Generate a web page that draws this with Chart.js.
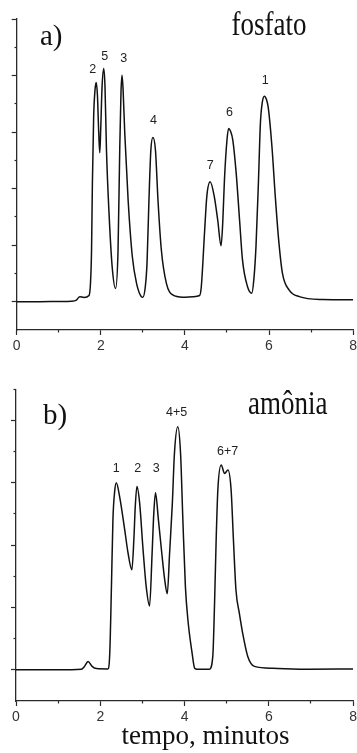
<!DOCTYPE html>
<html>
<head>
<meta charset="utf-8">
<script src="https://cdn.jsdelivr.net/npm/chart.js@4/dist/chart.umd.min.js"></script>
<style>
  html, body { margin:0; padding:0; width:357px; height:753px; overflow:hidden; background:#fff; }
  canvas { position:absolute; left:0; }
  .t { position:absolute; font-family:"Liberation Serif","Times New Roman",serif; color:#111; line-height:1; white-space:nowrap; }
</style>
</head>
<body>
<canvas id="ca" width="360" height="362" style="top:0px"></canvas>
<canvas id="cb" width="360" height="352" style="top:375px"></canvas>

<div class="t" style="left:40px; top:21px; font-size:29px;">a)</div>
<div class="t" style="left:231.5px; top:13.4px; font-size:27px; transform:scaleY(1.25); transform-origin:0 22.6px;">fosfato</div>
<div class="t" style="left:43px; top:400px; font-size:29px;">b)</div>
<div class="t" style="left:248px; top:392.4px; font-size:27px; transform:scaleY(1.25); transform-origin:0 22.6px;">amônia</div>
<div class="t" style="left:121.5px; top:722.4px; font-size:27px;">tempo, minutos</div>

<script>
// ---------- data: a) fosfato ----------
const fosfatoTime = [0.00,0.50,1.00,1.30,1.42,1.50,1.60,1.72,1.755,1.78,1.80,1.83,1.86,1.89,1.92,1.95,1.976,2.00,2.03,2.07,2.10,2.135,2.20,2.27,2.35,2.41,2.45,2.48,2.505,2.53,2.57,2.65,2.75,2.85,2.965,3.00,3.06,3.10,3.145,3.19,3.24,3.30,3.36,3.44,3.56,3.71,3.95,4.20,4.35,4.39,4.47,4.52,4.60,4.70,4.78,4.86,4.90,4.94,5.00,5.04,5.08,5.14,5.22,5.30,5.37,5.49,5.59,5.64,5.69,5.75,5.795,5.84,5.89,5.94,5.98,6.07,6.15,6.23,6.32,6.48,6.72,7.27,8.00];
const fosfatoSignal = [0.00,0.00,0.01,0.02,0.06,0.18,0.15,0.22,0.66,1.83,4.18,6.54,7.45,7.75,7.30,6.00,5.27,6.20,7.60,8.25,7.60,5.36,3.00,1.24,0.47,1.83,5.36,7.40,8.01,7.50,5.95,3.59,1.59,0.65,0.18,0.16,0.55,1.40,3.59,5.36,5.81,5.36,3.59,1.83,0.65,0.24,0.16,0.18,0.22,0.53,2.53,3.71,4.24,3.71,2.89,1.98,2.80,4.30,5.71,6.13,6.05,5.71,4.54,2.89,1.47,0.53,0.30,0.80,1.94,4.30,6.30,7.05,7.27,7.15,6.89,5.48,3.71,2.18,1.00,0.41,0.18,0.08,0.07];
const fosfatoPeakNames = ['2','5','3','4','7','6','1'];
const fosfatoPeakLabelTime = [1.81,2.095,2.545,3.25,4.60,5.06,5.91];
const fosfatoPeakLabelValue = [8.22,8.68,8.61,6.42,4.83,6.70,7.83];

// ---------- data: b) amônia ----------
const amoniaTime = [0.00,1.00,1.55,1.62,1.71,1.80,1.91,2.18,2.225,2.265,2.30,2.34,2.38,2.46,2.58,2.66,2.75,2.80,2.83,2.87,2.935,3.01,3.09,3.17,3.23,3.27,3.31,3.38,3.46,3.53,3.59,3.645,3.71,3.76,3.84,3.905,3.96,4.02,4.08,4.18,4.24,4.30,4.59,4.67,4.71,4.75,4.79,4.87,4.95,5.03,5.105,5.16,5.22,5.30,5.38,5.50,5.66,6.09,6.96,8.00];
const amoniaSignal = [0.00,0.00,0.02,0.10,0.27,0.12,0.04,0.03,0.53,2.67,4.81,5.70,6.00,5.55,4.49,3.74,3.21,4.27,5.23,5.88,5.34,3.95,2.67,2.05,3.74,5.02,5.68,4.81,3.74,2.88,2.44,3.74,5.34,6.95,7.80,6.95,4.81,2.67,1.60,0.53,0.05,0.02,0.02,0.43,2.03,4.17,5.77,6.57,6.30,6.41,5.77,4.17,2.56,1.82,1.17,0.43,0.11,0.05,0.02,0.03];
const amoniaPeakNames = ['1','2','3','4+5','6+7'];
const amoniaPeakLabelTime = [2.38,2.89,3.33,3.81,5.02];
const amoniaPeakLabelValue = [6.47,6.47,6.47,8.27,6.99];

// ---------- axes ----------
const xMajorTicks = [0,2,4,6,8];
const xMinorTicks = [1,3,5,7];
const yMajorTicksA = [0,2,4,6,8,10];
const yMinorTicksA = [1,3,5,7,9];
const yMajorTicksB = [0,2,4,6,8];
const yMinorTicksB = [1,3,5,7,9];

const INK = '#111';
const AXIS = '#2a2a2a';
const TICK_FONT = 14;
const TICK_LEN = 5;
const TICK_PAD = 3;

function setTicks(arr) {
  return function(scale) { scale.ticks = arr.map(v => ({value: v})); };
}

const peakLabelPlugin = {
  id: 'peakLabels',
  afterDatasetsDraw(chart, args, opts) {
    const {ctx, scales} = chart;
    ctx.save();
    ctx.font = '12.5px "Liberation Sans", Arial, sans-serif';
    ctx.fillStyle = '#222';
    ctx.textAlign = 'center';
    ctx.textBaseline = 'middle';
    opts.names.forEach((n, i) => {
      ctx.fillText(n, scales.x.getPixelForValue(opts.times[i]), scales.y.getPixelForValue(opts.values[i]));
    });
    ctx.restore();
  }
};

function makeChart(id, times, signal, yMin, yMax, yMaj, yMin2, pad, names, lt, lv) {
  return new Chart(document.getElementById(id), {
    type: 'line',
    data: {
      datasets: [{
        data: times.map((t, i) => ({x: t, y: signal[i]})),
        borderColor: INK,
        borderWidth: 1.5,
        pointRadius: 0,
        fill: false,
        cubicInterpolationMode: 'monotone'
      }]
    },
    options: {
      responsive: false,
      animation: false,
      devicePixelRatio: 1,
      events: [],
      layout: { padding: pad },
      plugins: {
        legend: { display: false },
        tooltip: { enabled: false },
        peakLabels: { names: names, times: lt, values: lv }
      },
      scales: {
        x: {
          type: 'linear', position: 'bottom', min: 0, max: 8,
          afterBuildTicks: setTicks(xMajorTicks),
          afterFit: s => { s.height = TICK_LEN + TICK_PAD + TICK_FONT * 1.2; },
          grid: { drawOnChartArea: false, tickLength: TICK_LEN, tickColor: AXIS, tickWidth: 1.2 },
          border: { color: AXIS, width: 1.3 },
          ticks: { padding: TICK_PAD, color: '#333', font: { family: '"Liberation Sans", Arial, sans-serif', size: TICK_FONT }, maxRotation: 0 }
        },
        xm: {
          type: 'linear', axis: 'x', position: { y: yMin }, min: 0, max: 8,
          afterBuildTicks: setTicks(xMinorTicks),
          afterFit: s => { s.height = 0; },
          grid: { drawOnChartArea: false, tickLength: 2.5, tickColor: AXIS, tickWidth: 1.2 },
          border: { display: false },
          ticks: { display: false }
        },
        y: {
          type: 'linear', position: 'left', min: yMin, max: yMax,
          afterBuildTicks: setTicks(yMaj),
          afterFit: s => { s.width = TICK_LEN; },
          grid: { drawOnChartArea: false, tickLength: TICK_LEN, tickColor: AXIS, tickWidth: 1.2 },
          border: { color: AXIS, width: 1.3 },
          ticks: { display: false }
        },
        ym: {
          type: 'linear', axis: 'y', position: { x: 0 }, min: yMin, max: yMax,
          afterBuildTicks: setTicks(yMin2),
          afterFit: s => { s.width = 0; },
          grid: { drawOnChartArea: false, tickLength: 2.5, tickColor: AXIS, tickWidth: 1.2 },
          border: { display: false },
          ticks: { display: false }
        }
      }
    },
    plugins: [peakLabelPlugin]
  });
}

makeChart('ca', fosfatoTime, fosfatoSignal, -1, 10, yMajorTicksA, yMinorTicksA,
  { left: 11.7, top: 19, right: 6, bottom: 362 - 330 - (TICK_LEN + TICK_PAD + TICK_FONT * 1.2) },
  fosfatoPeakNames, fosfatoPeakLabelTime, fosfatoPeakLabelValue);

makeChart('cb', amoniaTime, amoniaSignal, -1, 9, yMajorTicksB, yMinorTicksB,
  { left: 11, top: 14.3, right: 6, bottom: 352 - 326 - (TICK_LEN + TICK_PAD + TICK_FONT * 1.2) },
  amoniaPeakNames, amoniaPeakLabelTime, amoniaPeakLabelValue);
</script>
</body>
</html>
